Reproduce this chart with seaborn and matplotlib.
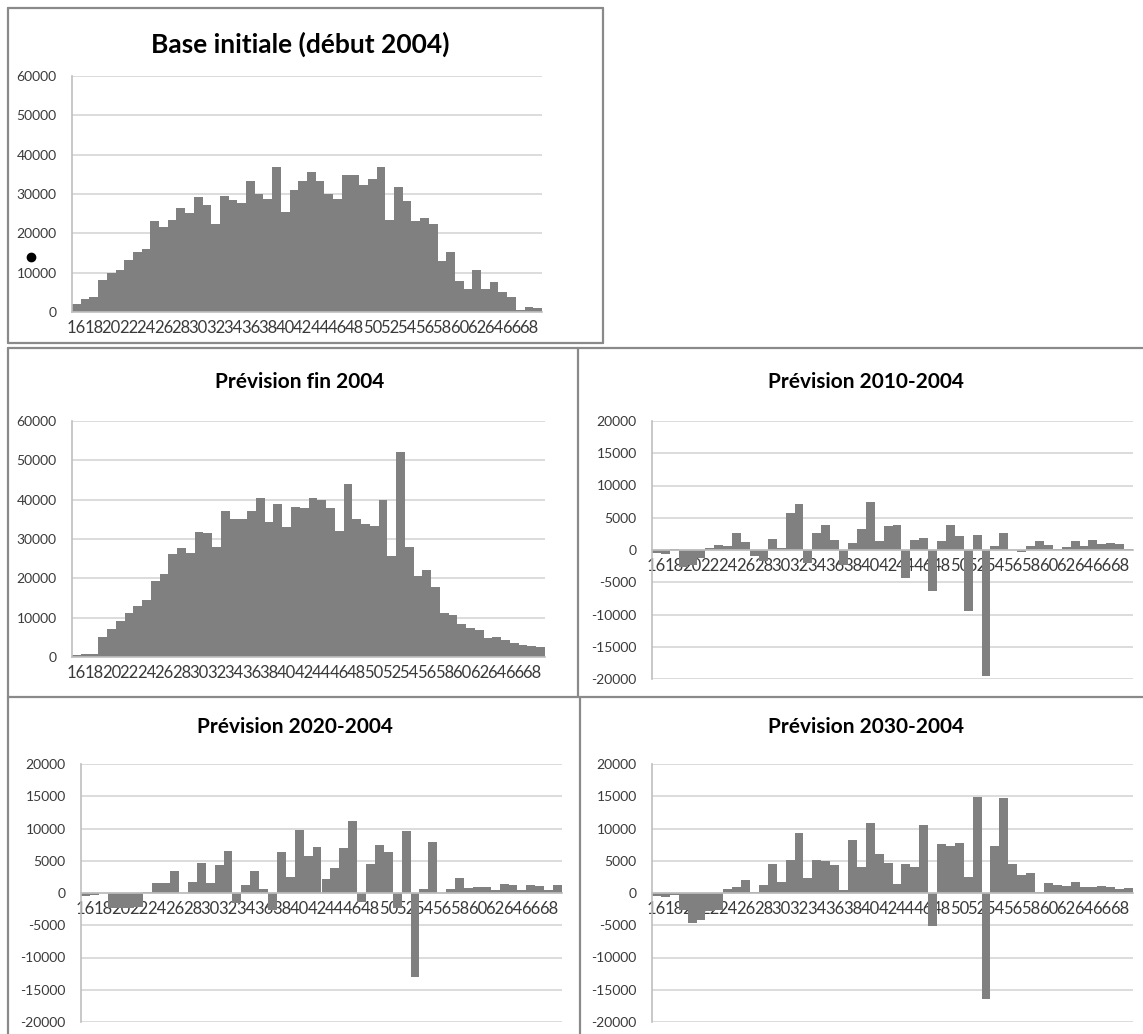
import numpy as np
import pandas as pd
import matplotlib
matplotlib.use("Agg")
import matplotlib.pyplot as plt
import seaborn as sns
from matplotlib.lines import Line2D
from matplotlib.ticker import FuncFormatter

# ---------------- data ----------------
ages = list(range(16, 70))

base_2004 = [2000, 3200, 3700, 8200, 10000, 10800, 13300, 15300, 16000, 23100,
             21700, 23500, 26500, 25200, 29300, 27100, 22500, 29600, 28400, 27800,
             33300, 29900, 28800, 36900, 25400, 31100, 33200, 35500, 33400, 30000,
             28800, 34900, 34900, 32400, 33800, 36800, 23500, 31800, 28100, 23200,
             23900, 22500, 12900, 15300, 7900, 5900, 10800, 5900, 7700, 5200,
             3800, 500, 1300, 900]

fin_2004 = [400, 700, 850, 5000, 7200, 9150, 11100, 13050, 14400, 19200,
            21200, 26100, 27800, 26500, 31800, 31600, 27900, 37000, 35000, 35200,
            37000, 40500, 34400, 38800, 33000, 38200, 37800, 40500, 39900, 37900,
            32100, 44100, 35200, 33700, 33300, 39800, 25800, 52000, 28000, 20700,
            22100, 17700, 11300, 10700, 8300, 7500, 6900, 4900, 5000, 4300,
            3500, 3100, 2900, 2500]

diff_2010 = [-500, -600, 150, -2600, -2400, -1300, 350, 700, 550, 2700,
             1300, -1000, -1700, 1650, 350, 5700, 7150, -1950, 2600, 3900,
             1550, -2250, 1150, 3200, 7500, 1350, 3700, 3900, -4300, 1550,
             1800, -6300, 1350, 3900, 2150, -9500, 2350, -19600, 550, 2700,
             0, -350, 550, 1400, 800, 200, 400, 1350, 600, 1550,
             1000, 1050, 950, 150]

diff_2020 = [-500, -300, 0, -2300, -2300, -2300, -2100, 100, 1550, 1550,
             3350, 0, 1750, 4650, 1550, 4300, 6500, -1550, 1300, 3350,
             550, -2600, 6350, 2500, 9800, 5700, 7100, 2150, 3950, 6950,
             11100, -1350, 4550, 7450, 6300, -2300, 9650, -13000, 600, 7850,
             0, 600, 2400, 750, 1000, 1000, 500, 1400, 1300, 500,
             1250, 1100, 500, 1300]

diff_2030 = [-500, -550, -350, -2700, -4700, -4200, -2800, -2700, 600, 950,
             1950, 150, 1250, 4500, 1700, 5050, 9350, 2400, 5150, 5000,
             4350, 500, 8250, 4000, 10900, 6050, 4700, 1350, 4500, 4100,
             10600, -5150, 7650, 7250, 7750, 2550, 14950, -16500, 7300, 14750,
             4500, 2800, 3100, 150, 1550, 1250, 1150, 1750, 950, 950,
             1150, 950, 550, 800]

titles = ["Base initiale (début 2004)", "Prévision fin 2004",
          "Prévision 2010-2004", "Prévision 2020-2004", "Prévision 2030-2004"]

# ---------------- style ----------------
W, H = 1143, 1034
sns.set_theme(style="white")
plt.rcParams["font.family"] = ["Lato", "DejaVu Sans"]

BAR = "#808080"
GRID = "#d9d9d9"
AXC = "#bfbfbf"
TXT = "#3a3a3a"

fig = plt.figure(figsize=(W / 100, H / 100), dpi=100)
fig.patch.set_facecolor("white")


def add_ax(x0, y0, x1, y1):
    return fig.add_axes([x0 / W, 1 - y1 / H, (x1 - x0) / W, (y1 - y0) / H])


def draw(ax, values, ylim, step):
    df = pd.DataFrame({"age": [str(a) for a in ages], "v": values})
    sns.barplot(data=df, x="age", y="v", color=BAR, saturation=1, width=1.0,
                linewidth=0, edgecolor="none", ax=ax)
    n = len(ages)
    ax.set_xlim(-0.5, n - 0.5)
    ax.set_ylim(*ylim)
    ax.set_yticks(np.arange(ylim[0], ylim[1] + 1, step))
    ax.yaxis.set_major_formatter(FuncFormatter(lambda v, p: f"{int(round(v))}"))
    ax.yaxis.grid(True, color=GRID, lw=1.3)
    ax.xaxis.grid(False)
    ax.set_axisbelow(True)
    ax.set_xlabel("")
    ax.set_ylabel("")
    # x labels every other age, ticks at category boundaries
    ax.set_xticks(list(range(0, n, 2)))
    ax.set_xticklabels([str(a) for a in ages[::2]])
    ax.set_xticks(np.arange(-0.5, n, 1.0), minor=True)
    ax.tick_params(axis="x", which="major", length=0, pad=6, labelsize=12,
                   labelcolor=TXT)
    ax.tick_params(axis="x", which="minor", length=4, width=1, color=AXC,
                   direction="out")
    ax.tick_params(axis="y", which="major", length=5, width=1.2, color=GRID,
                   direction="out", pad=6, labelsize=10, labelcolor=TXT)
    for s in ("top", "right"):
        ax.spines[s].set_visible(False)
    ax.spines["left"].set_color(AXC)
    ax.spines["left"].set_linewidth(1.2)
    ax.spines["bottom"].set_color(AXC)
    ax.spines["bottom"].set_linewidth(1.2)
    ax.spines["bottom"].set_position(("data", 0))
    ax.patch.set_alpha(0)


panels = [
    (base_2004, (72, 76, 542, 312), (0, 60000), 10000, titles[0], (300, 44), 19),
    (fin_2004, (72, 421, 545, 657), (0, 60000), 10000, titles[1], (300, 382), 15),
    (diff_2010, (652, 421, 1133, 679), (-20000, 20000), 5000, titles[2], (866, 382), 15),
    (diff_2020, (81, 764, 562, 1022), (-20000, 20000), 5000, titles[3], (295, 727), 15),
    (diff_2030, (652, 764, 1133, 1022), (-20000, 20000), 5000, titles[4], (866, 727), 15),
]

for vals, box, ylim, step, title, tpos, tsize in panels:
    ax = add_ax(*box)
    draw(ax, vals, ylim, step)
    fig.text(tpos[0] / W, 1 - tpos[1] / H, title, ha="center", va="center",
             fontsize=tsize, fontweight="bold", color="black")

# panel frames
FR = "#8a8a8a"
segments = [
    # panel 1 box
    ((8, 8), (603, 8)), ((8, 8), (8, 343)), ((603, 8), (603, 343)), ((8, 343), (603, 343)),
    # middle row
    ((8, 348), (1143, 348)), ((8, 348), (8, 697)), ((578, 348), (578, 697)),
    ((8, 697), (1143, 697)),
    # bottom row
    ((8, 697), (8, 1034)), ((580, 697), (580, 1034)),
]
for (xa, ya), (xb, yb) in segments:
    fig.add_artist(Line2D([xa / W, xb / W], [1 - ya / H, 1 - yb / H],
                          transform=fig.transFigure, color=FR, lw=1.6))

# stray bullet on the first panel
fig.add_artist(Line2D([31 / W], [1 - 257 / H], marker="o", markersize=6,
                      color="black", transform=fig.transFigure))

fig.savefig("out.png", dpi=100, facecolor="white")
